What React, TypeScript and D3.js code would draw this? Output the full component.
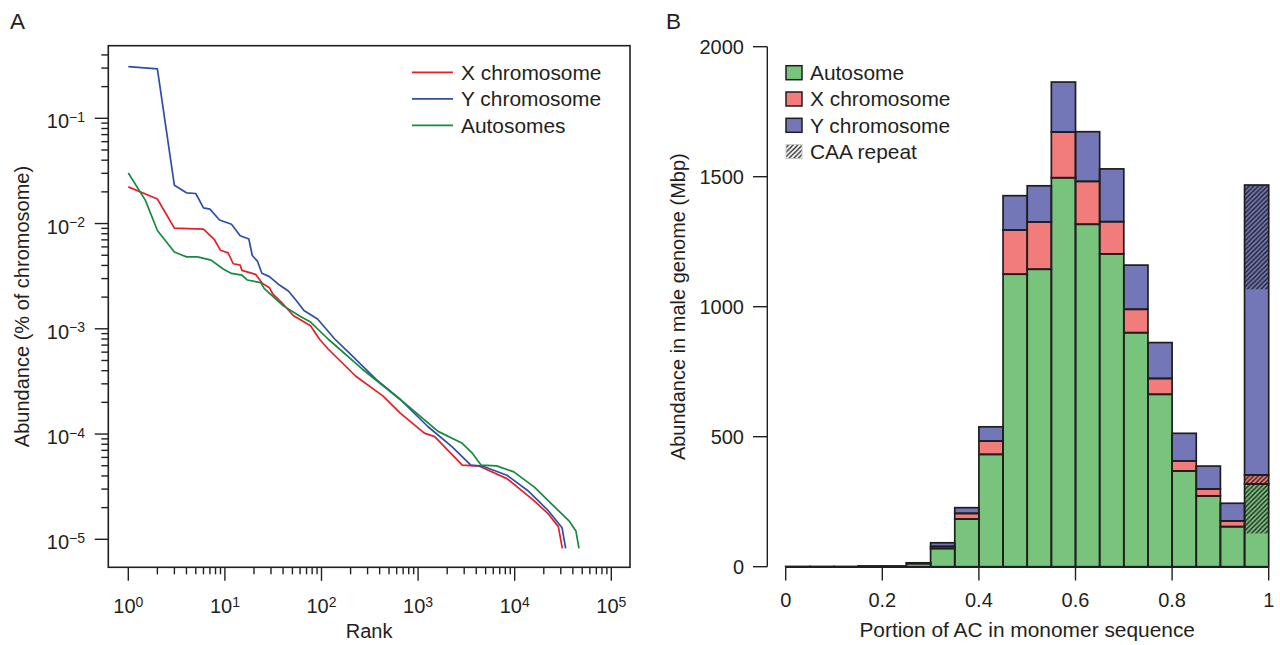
import * as d3 from "d3";
import React from "react";

// Panel A: abundance (% of chromosome) by rank
const xChromosome: [number, number][] = [
  [1, 0.0223], [2, 0.0171], [3, 0.00904], [6, 0.00885], [7.8, 0.00702], [9, 0.00557],
  [10.8, 0.00526], [12.2, 0.00415], [14.4, 0.00403], [15, 0.00359], [20.8, 0.00329],
  [24.5, 0.00269], [28.9, 0.00246], [31.4, 0.00213], [38.5, 0.00178], [51.4, 0.00133],
  [77, 0.00107], [95, 0.0008], [117, 0.000643], [225, 0.000356], [434, 0.000229],
  [654, 0.000158], [1160, 0.000102], [1485, 0.0000946], [2865, 0.0000506], [4315, 0.0000495],
  [8320, 0.0000377], [15600, 0.0000236], [22300, 0.0000174], [28300, 0.0000132], [31100, 0.0000082],
];
const yChromosome: [number, number][] = [
  [1, 0.31], [2, 0.295], [3, 0.0231], [4, 0.0196], [5, 0.0193], [6, 0.0141], [7, 0.0137],
  [8.8, 0.0108], [11.7, 0.00986], [14.4, 0.00766], [17.7, 0.00713], [19.2, 0.00497],
  [21.7, 0.0044], [24.1, 0.00337], [28.9, 0.00313], [37, 0.00259], [45.4, 0.00229],
  [53.5, 0.00191], [65.8, 0.00149], [91, 0.00124], [137, 0.0008], [191, 0.000597],
  [368, 0.000331], [654, 0.000213], [1260, 0.000118], [2240, 0.000076], [3515, 0.0000506],
  [4690, 0.0000495], [8320, 0.0000406], [13600, 0.0000291], [22300, 0.0000187],
  [30900, 0.0000129], [33700, 0.0000082],
];
const autosomes: [number, number][] = [
  [1, 0.0302], [1.5, 0.0167], [2, 0.00859], [3, 0.00537], [4, 0.00482], [5.2, 0.00482],
  [7.2, 0.00449], [9.5, 0.00372], [11.7, 0.00336], [15, 0.00324], [17, 0.00291],
  [23.5, 0.00275], [25.6, 0.00241], [40, 0.00166], [60.5, 0.00131], [77, 0.00116],
  [117, 0.0008], [265, 0.000413], [654, 0.000213], [1610, 0.000106], [2865, 0.0000817],
  [3660, 0.0000655], [4500, 0.0000506], [6500, 0.0000499], [9800, 0.0000437],
  [16000, 0.0000313], [26200, 0.0000201], [36500, 0.000015], [43000, 0.000012], [46300, 0.0000082],
];
const lineSeries = [
  { name: "X chromosome", data: xChromosome, color: "#e3202a" },
  { name: "Y chromosome", data: yChromosome, color: "#2f4fa6" },
  { name: "Autosomes", data: autosomes, color: "#168a3e" },
];

// Panel B: Mbp per bin of AC portion (bin lower edges)
const acBins = [0, 0.05, 0.1, 0.15, 0.2, 0.25, 0.3, 0.35, 0.4, 0.45, 0.5, 0.55, 0.6, 0.65, 0.7, 0.75, 0.8, 0.85, 0.9, 0.95];
const autosomeMbp = [1, 1, 1, 3, 3, 12, 70, 183, 432, 1125, 1144, 1496, 1317, 1203, 900, 663, 368, 272, 154, 318];
const xMbp = [0, 0, 0, 0, 0, 1, 8, 22, 51, 170, 182, 176, 165, 124, 90, 61, 39, 27, 22, 35];
const yMbp = [0, 0, 0, 0, 0, 2, 14, 22, 55, 132, 139, 192, 191, 203, 170, 138, 106, 88, 68, 1115];
// CAA repeat share (top part of each segment) in the last bin: autosome, X, Y
const caaLastBin = [190, 35, 401];
const portionTicks = [0, 0.2, 0.4, 0.6, 0.8, 1];
const mbpTicks = [0, 500, 1000, 1500, 2000];
const barGroups = [
  { key: "autosome", name: "Autosome", color: "#79c47d" },
  { key: "x", name: "X chromosome", color: "#f27b7b" },
  { key: "y", name: "Y chromosome", color: "#7377b8" },
];

const FONT = "'Liberation Sans', Arial, Helvetica, sans-serif";
const INK = "#231f20";
const WORDS = 20.9; // legend / title text runs a little wider than the digits

// panel A scales
const xA = d3.scaleLog().domain([1, 1e5]).range([128.3, 611.3]);
const yA = d3.scaleLog().domain([1e-5, 1e-1]).range([539.3, 118.3]);
const boxA = { left: 108.3, right: 630, top: 45.7, bottom: 567.3 };
const rankTicks = d3.scaleLog().domain([1, 1e5]).ticks();
const abundTicks = d3.scaleLog().domain([1e-5, 0.45]).ticks();
const isDecade = (t) => Math.abs(Math.log10(t) - Math.round(Math.log10(t))) < 1e-6;
const sup = (t) => {
  const e = Math.round(Math.log10(t));
  return e < 0 ? "\u2212" + (-e) : String(e);
};

// panel B scales
const xB = d3.scaleLinear().domain([0, 1]).range([785.7, 1268.7]);
const yB = d3.scaleLinear().domain([0, 2000]).range([566.7, 46.7]);
const binWidth = 0.05;

const table = acBins.map((b, i) => ({ bin: b, autosome: autosomeMbp[i], x: xMbp[i], y: yMbp[i] }));
const stacked = d3.stack().keys(barGroups.map((g) => g.key))(table);

const line = d3.line()
  .x((d) => xA(d[0]))
  .y((d) => yA(d[1]));

export default function App() {
  const last = acBins.length - 1;
  return (
    <div style={{ position: "absolute", left: 0, top: 0 }}>
      <svg width={1280} height={645} fontFamily={FONT} style={{ display: "block", background: "#fff" }}>
        <defs>
          <pattern id="hatch" patternUnits="userSpaceOnUse" width={4.6} height={4.6}>
            <path d="M-1,1 l2,-2 M0,4.6 l4.6,-4.6 M3.6,5.6 l2,-2" stroke="#1c1c1c" strokeWidth={1.3} />
          </pattern>
        </defs>

        {/* ---------- Panel A ---------- */}
        <text x={10} y={29} fontSize={22.5} fill={INK}>A</text>
        <rect x={boxA.left} y={boxA.top} width={boxA.right - boxA.left} height={boxA.bottom - boxA.top}
          fill="none" stroke={INK} strokeWidth={1.6} />
        {rankTicks.map((t, i) => (
          <line key={"rx" + i} x1={xA(t)} x2={xA(t)} y1={boxA.bottom} y2={boxA.bottom + (isDecade(t) ? 13.5 : 7)}
            stroke={INK} strokeWidth={1.4} />
        ))}
        {rankTicks.filter(isDecade).map((t, i) => (
          <text key={"rl" + i} x={xA(t)} y={613.3} textAnchor="middle" fontSize={20} fill={INK}>
            10<tspan fontSize={14} dy={-6.5}>{sup(t)}</tspan>
          </text>
        ))}
        {abundTicks.map((t, i) => (
          <line key={"ay" + i} y1={yA(t)} y2={yA(t)} x1={boxA.left} x2={boxA.left - (isDecade(t) ? 13.5 : 7)}
            stroke={INK} strokeWidth={1.4} />
        ))}
        {abundTicks.filter(isDecade).map((t, i) => (
          <text key={"al" + i} x={85} y={yA(t) + 10} textAnchor="end" fontSize={20} fill={INK}>
            10<tspan fontSize={14} dy={-6.5}>{sup(t)}</tspan>
          </text>
        ))}
        <text x={(boxA.left + boxA.right) / 2} y={638} textAnchor="middle" fontSize={20} fill={INK}>Rank</text>
        <text transform={`translate(29,${(boxA.top + boxA.bottom) / 2}) rotate(-90)`} textAnchor="middle"
          fontSize={20} fill={INK}>Abundance (% of chromosome)</text>

        {lineSeries.map((s) => (
          <path key={s.name} d={line(s.data) || ""} fill="none" stroke={s.color} strokeWidth={1.7}
            strokeLinejoin="round" />
        ))}
        {lineSeries.map((s, i) => (
          <g key={"lg" + i} transform={`translate(0,${72.3 + i * 26.5})`}>
            <line x1={412} x2={453} y1={0} y2={0} stroke={s.color} strokeWidth={1.8} />
            <text x={461} y={7.4} fontSize={WORDS} fill={INK}>{s.name}</text>
          </g>
        ))}

        {/* ---------- Panel B ---------- */}
        <text x={666} y={29} fontSize={22.5} fill={INK}>B</text>

        {stacked.map((layer, gi) => (
          <g key={"f" + gi}>
            {layer.map((d, i) => (
              <rect key={i} x={xB(acBins[i])} width={xB(acBins[i] + binWidth) - xB(acBins[i])}
                y={yB(d[1])} height={Math.max(0, yB(d[0]) - yB(d[1]))} fill={barGroups[gi].color} />
            ))}
          </g>
        ))}
        {stacked.map((layer, gi) => {
          const d = layer[last];
          return (
            <rect key={"h" + gi} x={xB(acBins[last])} width={xB(acBins[last] + binWidth) - xB(acBins[last])}
              y={yB(d[1])} height={yB(d[1] - caaLastBin[gi]) - yB(d[1])} fill="url(#hatch)" />
          );
        })}
        {stacked.map((layer, gi) => (
          <g key={"o" + gi}>
            {layer.map((d, i) => (
              <rect key={i} x={xB(acBins[i])} width={xB(acBins[i] + binWidth) - xB(acBins[i])}
                y={yB(d[1])} height={Math.max(0, yB(d[0]) - yB(d[1]))} fill="none"
                stroke="#1e1e1e" strokeWidth={1.7} />
            ))}
          </g>
        ))}

        {/* y axis */}
        <line x1={767.3} x2={767.3} y1={yB(0)} y2={yB(2000)} stroke={INK} strokeWidth={1.4} />
        {mbpTicks.map((t) => (
          <g key={"my" + t}>
            <line x1={767.3} x2={753} y1={yB(t)} y2={yB(t)} stroke={INK} strokeWidth={1.4} />
            <text x={744} y={yB(t) + 7.3} textAnchor="end" fontSize={20} fill={INK}>{t}</text>
          </g>
        ))}
        {/* x axis */}
        <line x1={xB(0)} x2={xB(1)} y1={567.3} y2={567.3} stroke={INK} strokeWidth={1.6} />
        {portionTicks.map((t) => (
          <g key={"px" + t}>
            <line x1={xB(t)} x2={xB(t)} y1={567.3} y2={580.5} stroke={INK} strokeWidth={1.4} />
            <text x={xB(t)} y={607.3} textAnchor="middle" fontSize={20} fill={INK}>{t}</text>
          </g>
        ))}
        <text x={(xB(0) + xB(1)) / 2} y={637} textAnchor="middle" fontSize={WORDS} fill={INK}>
          Portion of AC in monomer sequence
        </text>
        <text transform={`translate(685,${(yB(0) + yB(2000)) / 2}) rotate(-90)`} textAnchor="middle"
          fontSize={20} fill={INK}>Abundance in male genome (Mbp)</text>

        {/* legend */}
        {barGroups.map((g, i) => (
          <g key={"bl" + i} transform={`translate(0,${72.7 + i * 26.3})`}>
            <rect x={786} y={-7} width={16} height={14} fill={g.color} stroke="#1e1e1e" strokeWidth={1.5} />
            <text x={810} y={7.4} fontSize={WORDS} fill={INK}>{g.name}</text>
          </g>
        ))}
        <g transform={`translate(0,${72.7 + 3 * 26.3})`}>
          <rect x={786} y={-7} width={16} height={14} fill="url(#hatch)" stroke="#c8c8c8" strokeWidth={1} />
          <text x={810} y={7.4} fontSize={WORDS} fill={INK}>CAA repeat</text>
        </g>
      </svg>
    </div>
  );
}
